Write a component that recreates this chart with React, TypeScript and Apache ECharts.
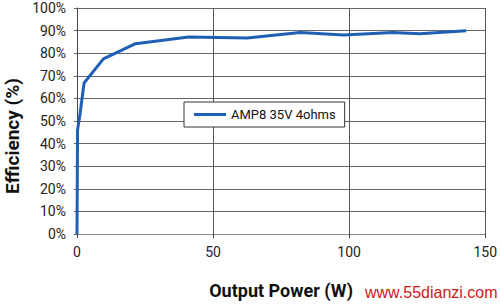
import React, { useEffect, useRef } from "react";
import * as echarts from "echarts";

const seriesName = "AMP8 35V 4ohms";
const powerW = [0, 0.2, 1.1, 2.6, 9.7, 21.5, 41, 62.5, 82, 98, 116, 126, 143];
const efficiencyPct = [0, 46, 53, 66.8, 77.5, 84.2, 87.2, 86.7, 89.2, 88.1, 89.2, 88.6, 89.9];
const xTitle = "Output Power (W)";
const yTitle = "Efficiency (%)";
const watermark = "www.55dianzi.com";

const NARROW = "'Liberation Sans Narrow', 'Arial Narrow', 'Roboto', sans-serif";

export default function App() {
  const ref = useRef<HTMLDivElement>(null);
  useEffect(() => {
    if (!ref.current) return;
    const chart = echarts.init(ref.current, null, { renderer: "svg" });
    const data = powerW.map((x, i) => [x, efficiencyPct[i]]);
    chart.setOption({
      animation: false,
      backgroundColor: "#ffffff",
      grid: { left: 77, right: 11, top: 8, bottom: 59, containLabel: false },
      legend: {
        left: 184,
        top: 102,
        data: [{ name: seriesName, icon: "rect" }],
        itemWidth: 32,
        itemHeight: 3,
        padding: [6, 9, 6, 10],
        borderColor: "#333",
        borderWidth: 1,
        backgroundColor: "#fff",
        textStyle: { fontFamily: NARROW, fontSize: 13, color: "#111" },
      },
      xAxis: {
        type: "value",
        min: 0,
        max: 150,
        interval: 50,
        name: xTitle,
        nameLocation: "middle",
        nameGap: 47,
        nameTextStyle: { fontFamily: NARROW, fontSize: 18, fontWeight: "bold", color: "#111" },
        axisLine: { show: true, lineStyle: { color: "#888", width: 1 } },
        axisTick: { show: true, length: 4, lineStyle: { color: "#444" } },
        axisLabel: { margin: 11, fontFamily: NARROW, fontSize: 14, color: "#222" },
        splitLine: { show: true, lineStyle: { color: "#555", width: 1 } },
      },
      yAxis: {
        type: "value",
        min: 0,
        max: 100,
        interval: 10,
        axisLine: { show: true, lineStyle: { color: "#444", width: 1 } },
        axisTick: { show: true, length: 3, lineStyle: { color: "#666" } },
        axisLabel: { margin: 11, fontFamily: NARROW, fontSize: 14, color: "#222", formatter: "{value}%" },
        splitLine: { show: true, lineStyle: { color: "#666", width: 1 } },
      },
      series: [
        {
          name: seriesName,
          type: "line",
          data,
          showSymbol: false,
          symbol: "none",
          lineStyle: { color: "#1F5FB5", width: 3 },
          itemStyle: { color: "#1F5FB5" },
        },
      ],
      graphic: [
        {
          type: "text",
          x: 12,
          y: 136,
          rotation: Math.PI / 2,
          style: {
            text: yTitle,
            fontFamily: NARROW,
            fontSize: 19,
            fontWeight: "bold",
            fill: "#111",
            align: "center",
            verticalAlign: "middle",
          },
        },
        {
          type: "rect",
          shape: { x: 341, y: 282, width: 18, height: 20 },
          style: { fill: "rgba(255,255,255,0.8)" },
        },
        {
          type: "text",
          x: 365,
          y: 292,
          style: {
            text: watermark,
            fontFamily: "'Liberation Sans', Arial, sans-serif",
            fontSize: 16,
            fill: "#d01818",
            align: "left",
            verticalAlign: "middle",
          },
        },
      ],
    });
    return () => chart.dispose();
  }, []);
  return <div ref={ref} style={{ width: 500, height: 304, position: "absolute", left: 0, top: 0 }} />;
}
